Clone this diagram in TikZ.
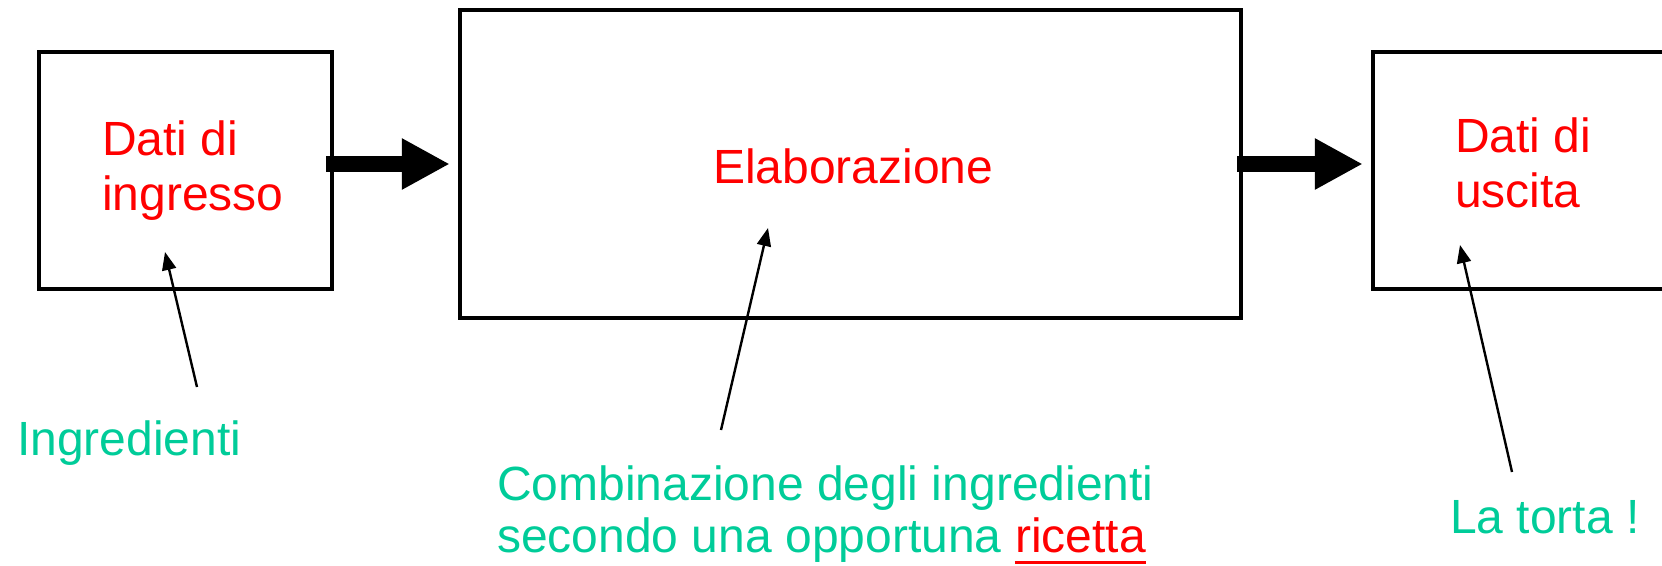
\documentclass[tikz,border=0pt]{standalone}
\usepackage{fontspec}
\setmainfont{Liberation Sans}
\usetikzlibrary{arrows.meta,positioning,calc}
\definecolor{verde}{RGB}{0,204,153}
\definecolor{rosso}{RGB}{255,0,0}

\begin{document}
\begin{tikzpicture}[
    x = 1pt, y = -1pt,
    blocco/.style = {draw, line width=4.5pt, minimum width=293pt,
                     minimum height=237pt, inner sep=0pt},
    dato/.style = {text=rosso, font=\fontsize{48}{55}\selectfont,
                   inner sep=0pt, anchor=base west},
    nota/.style = {dato, text=verde},
    freccia/.style = {line width=16pt, -{Triangle[length=48pt,width=48pt]}},
    puntatore/.style = {line width=2.4pt, -{Triangle[length=18pt,width=14pt]}}]

\useasboundingbox (0,0) rectangle (1662,565);
\clip (0,0) rectangle (1662,565);

% blocchi
\node[blocco] (ingresso) at (185.5,170.5) {};
\node[blocco, minimum width=781pt, minimum height=308pt] (elab) at (850.5,164) {};
\node[blocco] (uscita) at (1519.5,170.5) {};

\draw[freccia] ($(ingresso.east |- elab.west)+(-8,0)$) -- ($(elab.west)+(-8,0)$);
\draw[freccia] ($(elab.east)+(-6,0)$) -- ($(uscita.west |- elab.east)+(-8,0)$);

% testi
\path (102,155) node[dato] (dati1) {Dati di}
      (102,210) node[dato] (dati2) {ingresso}
      (713,183) node[dato] (elabtxt) {Elaborazione}
      (1455,152) node[dato] (usc1) {Dati di}
      (1455,207) node[dato] (usc2) {uscita};
\path (17,455) node[nota] (ingredienti) {Ingredienti}
      (497,500) node[nota] (comb1) {Combinazione degli ingredienti}
      (497,552) node[nota] (comb2) {secondo una opportuna}
      (1450,533) node[nota] (torta) {La torta !};
\node[dato, base right=13pt of comb2] (ricetta) {ricetta};
\draw[rosso, line width=3pt] ([yshift=-10pt]ricetta.base west) -- ([yshift=-10pt]ricetta.base east);

% puntatori
\coordinate (c-ingr) at (197,387);
\coordinate (t-ingr) at (165,252);
\coordinate (c-elab) at (721,430);
\coordinate (t-elab) at (768,228);
\coordinate (c-torta) at (1512,472);
\coordinate (t-torta) at (1460,245);
\draw[puntatore] (c-ingr) -- (t-ingr);
\draw[puntatore] (c-elab) -- (t-elab);
\draw[puntatore] (c-torta) -- (t-torta);
\end{tikzpicture}
\end{document}
